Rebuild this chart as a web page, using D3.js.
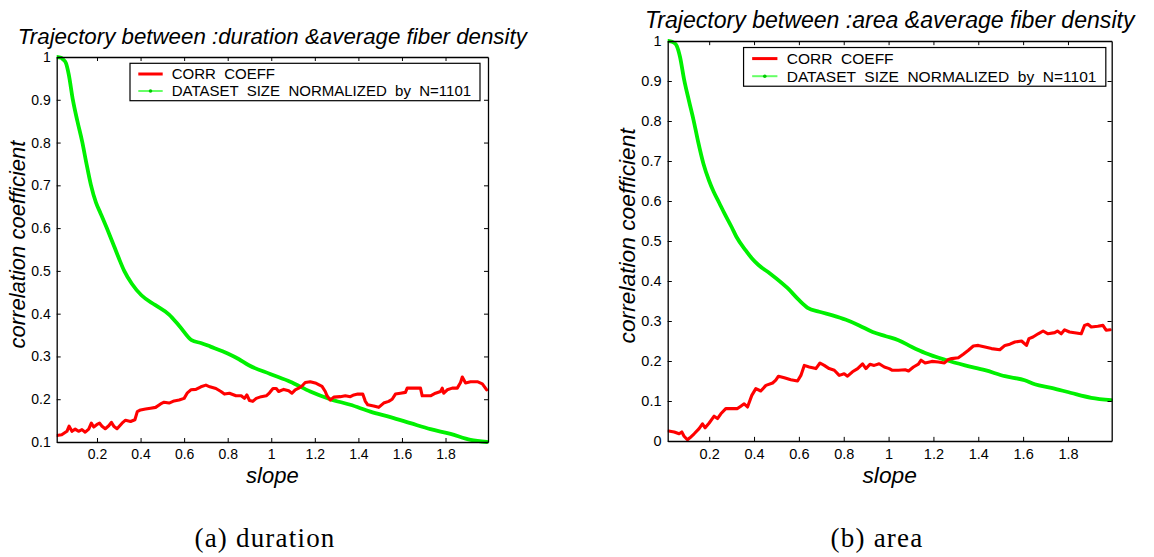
<!DOCTYPE html>
<html>
<head>
<meta charset="utf-8">
<script src="https://cdn.jsdelivr.net/npm/d3@7/dist/d3.min.js"></script>
<style>
html,body{margin:0;padding:0;background:#fff;}
svg{display:block;}
text{font-family:"Liberation Sans",Arial,Helvetica,sans-serif;fill:#000;}
</style>
</head>
<body>
<svg id="chart" width="1154" height="557"></svg>
<script>
// ---------------- DATA ----------------
const xTicks = [0.2, 0.4, 0.6, 0.8, 1.0, 1.2, 1.4, 1.6, 1.8];
const xTickLabels = ["0.2","0.4","0.6","0.8","1","1.2","1.4","1.6","1.8"];
const yTicksA = [0.1,0.2,0.3,0.4,0.5,0.6,0.7,0.8,0.9,1];
const yTickLabelsA = ["0.1","0.2","0.3","0.4","0.5","0.6","0.7","0.8","0.9","1"];
const yTicksB = [0,0.1,0.2,0.3,0.4,0.5,0.6,0.7,0.8,0.9,1];
const yTickLabelsB = ["0","0.1","0.2","0.3","0.4","0.5","0.6","0.7","0.8","0.9","1"];
const legendLabels = ["CORR  COEFF", "DATASET  SIZE  NORMALIZED  by  N=1101"];
const titles = ["Trajectory between :duration &average fiber density",
                "Trajectory between :area &average fiber density"];
const captions = ["(a) duration", "(b) area"];

// (a) duration: correlation coefficient vs slope
const durCorrX = [0.015,0.038,0.062,0.072,0.085,0.1,0.115,0.131,0.146,0.162,0.174,0.185,0.2,0.212,0.223,0.238,0.254,0.266,0.277,0.292,0.315,0.331,0.354,0.374,0.385,0.4,0.423,0.446,0.469,0.492,0.508,0.531,0.554,0.577,0.6,0.615,0.631,0.654,0.677,0.7,0.718,0.746,0.769,0.785,0.808,0.838,0.862,0.877,0.888,0.9,0.915,0.931,0.954,0.977,0.992,1.008,1.023,1.034,1.057,1.08,1.095,1.11,1.126,1.141,1.156,1.179,1.202,1.233,1.248,1.256,1.271,1.287,1.317,1.34,1.363,1.379,1.397,1.42,1.432,1.443,1.47,1.493,1.516,1.539,1.555,1.57,1.593,1.616,1.624,1.654,1.685,1.693,1.731,1.754,1.777,1.785,1.792,1.808,1.831,1.854,1.869,1.877,1.892,1.915,1.946,1.969,1.989];
const durCorrY = [0.115,0.117,0.125,0.137,0.125,0.13,0.125,0.129,0.123,0.13,0.144,0.135,0.141,0.144,0.137,0.131,0.138,0.146,0.137,0.131,0.144,0.151,0.148,0.152,0.171,0.175,0.177,0.179,0.181,0.189,0.193,0.191,0.196,0.198,0.202,0.215,0.222,0.223,0.229,0.233,0.229,0.225,0.218,0.212,0.214,0.208,0.208,0.202,0.21,0.197,0.195,0.202,0.206,0.208,0.215,0.225,0.225,0.218,0.223,0.22,0.214,0.222,0.226,0.231,0.239,0.241,0.238,0.23,0.218,0.208,0.198,0.205,0.206,0.208,0.206,0.21,0.212,0.212,0.195,0.187,0.184,0.181,0.191,0.195,0.2,0.212,0.214,0.216,0.226,0.226,0.226,0.208,0.208,0.214,0.218,0.226,0.214,0.222,0.226,0.226,0.239,0.252,0.238,0.241,0.241,0.236,0.222];
// (a) duration: dataset size normalized
const durSizeX = [0.015,0.035,0.045,0.058,0.07,0.0895,0.11,0.132,0.15,0.172,0.195,0.216,0.245,0.279,0.3,0.325,0.36,0.404,0.468,0.531,0.58,0.634,0.68,0.721,0.8,0.85,0.895,0.995,1.087,1.179,1.271,1.363,1.455,1.547,1.639,1.731,1.823,1.915,1.99];
const durSizeY = [1.0,0.998,0.994,0.985,0.96,0.899,0.85,0.802,0.755,0.701,0.66,0.635,0.6,0.557,0.53,0.5,0.47,0.443,0.42,0.398,0.37,0.338,0.331,0.323,0.307,0.294,0.28,0.259,0.241,0.218,0.2,0.187,0.171,0.158,0.144,0.13,0.119,0.105,0.1];

// (b) area: correlation coefficient vs slope
const areaCorrX = [0.019,0.044,0.066,0.078,0.088,0.103,0.114,0.133,0.155,0.17,0.182,0.2,0.222,0.237,0.252,0.274,0.297,0.326,0.341,0.356,0.371,0.39,0.408,0.43,0.453,0.483,0.497,0.509,0.535,0.564,0.594,0.609,0.624,0.646,0.676,0.694,0.713,0.735,0.758,0.78,0.802,0.817,0.839,0.862,0.884,0.899,0.917,0.936,0.958,0.981,1.003,1.015,1.044,1.074,1.089,1.111,1.133,1.145,1.163,1.193,1.222,1.249,1.264,1.281,1.311,1.333,1.356,1.378,1.4,1.43,1.459,1.496,1.519,1.541,1.563,1.593,1.615,1.626,1.644,1.667,1.689,1.711,1.741,1.753,1.77,1.785,1.807,1.837,1.859,1.874,1.889,1.904,1.933,1.956,1.97,1.988];
const areaCorrY = [0.025,0.0225,0.018,0.0225,0.012,0.003,0.008,0.018,0.031,0.043,0.033,0.045,0.062,0.056,0.068,0.081,0.081,0.081,0.087,0.093,0.085,0.114,0.131,0.125,0.139,0.145,0.152,0.162,0.158,0.153,0.15,0.164,0.189,0.185,0.181,0.195,0.189,0.181,0.177,0.164,0.168,0.162,0.173,0.181,0.193,0.181,0.192,0.189,0.193,0.185,0.181,0.177,0.177,0.178,0.175,0.185,0.192,0.202,0.195,0.199,0.1975,0.195,0.203,0.206,0.208,0.217,0.227,0.2375,0.239,0.235,0.231,0.228,0.239,0.242,0.2475,0.25,0.239,0.256,0.26,0.268,0.275,0.268,0.271,0.275,0.268,0.278,0.2725,0.27,0.268,0.289,0.292,0.285,0.287,0.289,0.277,0.278];
// (b) area: dataset size normalized
const areaSizeX = [0.017,0.035,0.045,0.056,0.07,0.088,0.11,0.13,0.15,0.174,0.2,0.22,0.245,0.268,0.3,0.322,0.362,0.39,0.42,0.471,0.55,0.601,0.639,0.691,0.75,0.81,0.869,0.929,0.988,1.044,1.104,1.163,1.252,1.341,1.43,1.519,1.607,1.652,1.726,1.815,1.904,1.993];
const areaSizeY = [1.0,0.998,0.995,0.987,0.96,0.904,0.85,0.803,0.75,0.694,0.65,0.623,0.595,0.569,0.535,0.51,0.477,0.457,0.44,0.419,0.382,0.352,0.333,0.323,0.314,0.303,0.289,0.2725,0.262,0.252,0.235,0.22,0.203,0.189,0.177,0.162,0.152,0.142,0.133,0.12,0.108,0.102];

// ---------------- LAYOUT ----------------
const panels = [
  {x0:56.7, y0:57, w:431.3, h:385, k:1.0, yDom:[0.1,1], yTicks:yTicksA, yLabels:yTickLabelsA,
   title:titles[0], caption:captions[0], capX:265,
   corrX:durCorrX, corrY:durCorrY, sizeX:durSizeX, sizeY:durSizeY},
  {x0:667.7, y0:41, w:444, h:400, k:1.035, yDom:[0,1], yTicks:yTicksB, yLabels:yTickLabelsB,
   title:titles[1], caption:captions[1], capX:877,
   corrX:areaCorrX, corrY:areaCorrY, sizeX:areaSizeX, sizeY:areaSizeY}
];

const svg = d3.select("#chart");
const RED = "#ff0000", GREEN = "#00f000";

panels.forEach((p, i) => {
  const k = p.k;
  const x = d3.scaleLinear().domain([0.015, 1.995]).range([p.x0, p.x0 + p.w]);
  const y = d3.scaleLinear().domain(p.yDom).range([p.y0 + p.h, p.y0]);
  const g = svg.append("g");

  const clipId = "clip" + i;
  svg.append("clipPath").attr("id", clipId).append("rect")
    .attr("x", p.x0).attr("y", p.y0 - 3).attr("width", p.w + 1).attr("height", p.h + 6);

  // lines
  const lineSmooth = d3.line().x(d => x(d[0])).y(d => y(d[1])).curve(d3.curveMonotoneX);
  const line = d3.line().x(d => x(d[0])).y(d => y(d[1]));
  const sizeData = p.sizeX.map((v, j) => [v, p.sizeY[j]]);
  const corrData = p.corrX.map((v, j) => [v, p.corrY[j]]);
  const lg = g.append("g").attr("clip-path", `url(#${clipId})`);
  lg.append("path").datum(sizeData).attr("d", lineSmooth)
    .attr("fill", "none").attr("stroke", GREEN).attr("stroke-width", 3.8)
    .attr("stroke-linejoin", "round").attr("stroke-linecap", "round");
  lg.append("path").datum(corrData).attr("d", line)
    .attr("fill", "none").attr("stroke", RED).attr("stroke-width", 3.1)
    .attr("stroke-linejoin", "round").attr("stroke-linecap", "round");

  // axes (inward ticks on all four sides)
  const tl = 4 * k;
  const fsTick = 14 * k;
  const axB = d3.axisBottom(x).tickValues(xTicks).tickSizeInner(-tl).tickSizeOuter(0)
    .tickPadding(7 * k).tickFormat((d, j) => xTickLabels[j]);
  const axT = d3.axisTop(x).tickValues(xTicks).tickSizeInner(-tl).tickSizeOuter(0).tickFormat("");
  const axL = d3.axisLeft(y).tickValues(p.yTicks).tickSizeInner(-tl).tickSizeOuter(0)
    .tickPadding(6 * k).tickFormat((d, j) => p.yLabels[j]);
  const axR = d3.axisRight(y).tickValues(p.yTicks).tickSizeInner(-tl).tickSizeOuter(0).tickFormat("");

  const styleAxis = sel => {
    sel.select(".domain").attr("stroke", "#000").attr("stroke-width", 1.3);
    sel.selectAll(".tick line").attr("stroke", "#000").attr("stroke-width", 1);
    sel.selectAll(".tick text").attr("font-size", fsTick)
      .attr("font-family", '"Liberation Sans", Arial, sans-serif').attr("fill", "#111");
  };
  g.append("g").attr("transform", `translate(0,${p.y0 + p.h})`).call(axB).call(styleAxis);
  g.append("g").attr("transform", `translate(0,${p.y0})`).call(axT).call(styleAxis);
  g.append("g").attr("transform", `translate(${p.x0},0)`).call(axL).call(styleAxis);
  g.append("g").attr("transform", `translate(${p.x0 + p.w},0)`).call(axR).call(styleAxis);

  // title
  g.append("text").attr("x", p.x0 + p.w / 2).attr("y", p.y0 - 13 * k)
    .attr("text-anchor", "middle").attr("font-size", 22.3 * k).attr("font-style", "italic")
    .text(p.title);
  // x label
  g.append("text").attr("x", p.x0 + p.w / 2).attr("y", p.y0 + p.h + 41 * k)
    .attr("text-anchor", "middle").attr("font-size", 22 * k).attr("font-style", "italic")
    .text("slope");
  // y label
  const ylx = p.x0 - 31.7 * k, yly = p.y0 + p.h / 2 - 5 * k;
  g.append("text").attr("transform", `translate(${ylx},${yly}) rotate(-90)`)
    .attr("text-anchor", "middle").attr("font-size", 22 * k).attr("font-style", "italic")
    .text("correlation coefficient");

  // legend
  const lx = p.x0 + 73.3 * k, ly = p.y0 + 6.3 * k;
  const lw = 350 * k, lh = 37.4 * k;
  const leg = g.append("g");
  leg.append("rect").attr("x", lx).attr("y", ly).attr("width", lw).attr("height", lh)
    .attr("fill", "#fff").attr("stroke", "#000").attr("stroke-width", 1.2);
  const r1 = ly + 10.7 * k, r2 = ly + 27.7 * k;
  leg.append("line").attr("x1", lx + 8.3 * k).attr("x2", lx + 32.7 * k)
    .attr("y1", r1).attr("y2", r1).attr("stroke", RED).attr("stroke-width", 3);
  leg.append("line").attr("x1", lx + 8.3 * k).attr("x2", lx + 32.7 * k)
    .attr("y1", r2).attr("y2", r2).attr("stroke", "#66ff66").attr("stroke-width", 2);
  leg.append("circle").attr("cx", lx + 20.5 * k).attr("cy", r2).attr("r", 1.8)
    .attr("fill", "#00cc00");
  [r1, r2].forEach((ry, j) => {
    leg.append("text").attr("x", lx + 41.7 * k).attr("y", ry)
      .attr("dy", "0.36em").attr("font-size", 15 * k)
      .style("white-space", "pre").attr("xml:space", "preserve")
      .text(legendLabels[j]);
  });

  // caption
  svg.append("text").attr("x", p.capX).attr("y", 547)
    .attr("text-anchor", "middle").attr("font-size", 27)
    .attr("letter-spacing", "1.2px")
    .style("font-family", '"Liberation Serif", "DejaVu Serif", serif')
    .text(p.caption);
});
</script>
</body>
</html>
